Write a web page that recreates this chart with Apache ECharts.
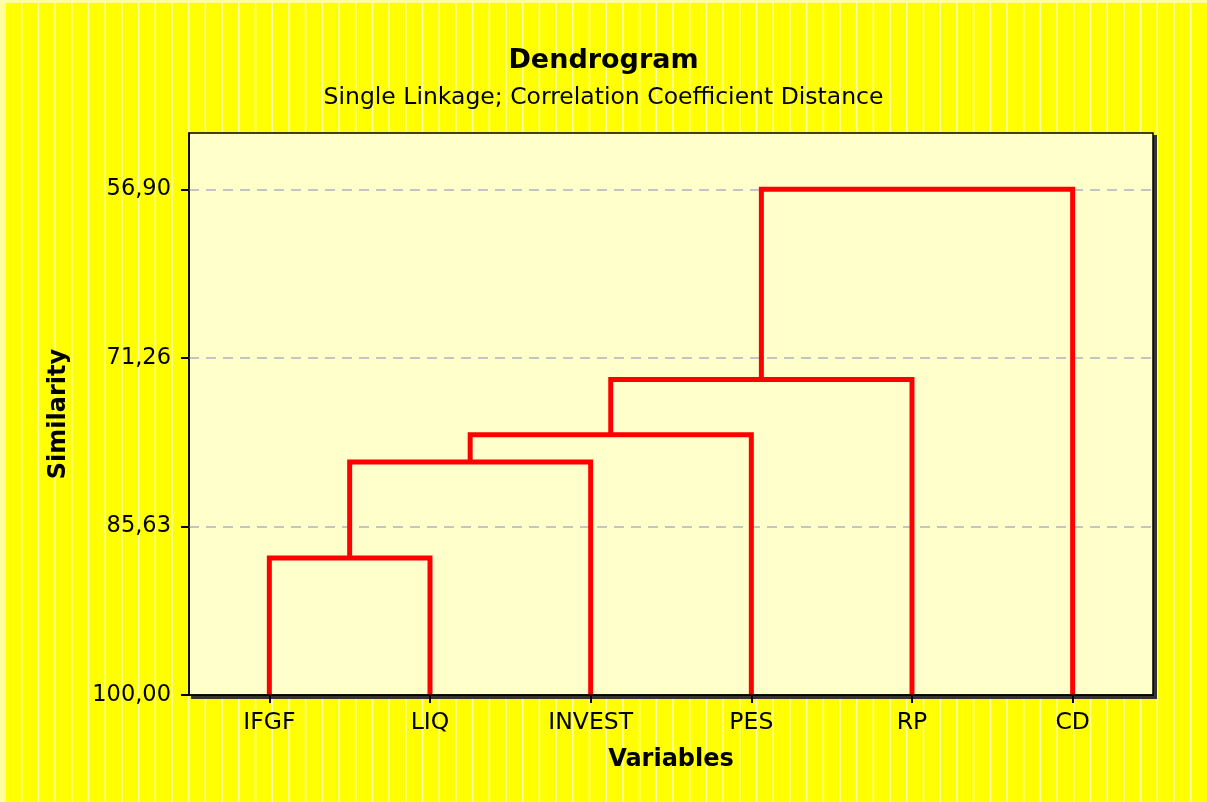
<!DOCTYPE html>
<html>
<head>
<meta charset="utf-8">
<script src="https://cdn.jsdelivr.net/npm/echarts@6/dist/echarts.min.js"></script>
<style>
html,body{margin:0;padding:0;}
#chart{width:1207px;height:802px;}
</style>
</head>
<body>
<div id="chart"></div>
<script>
// ---- data ----
const leaves = ['IFGF', 'LIQ', 'INVEST', 'PES', 'RP', 'CD'];
// node ids: leaves 0..5, merges 6..10
const mergeLeft = [0, 6, 7, 8, 9];
const mergeRight = [1, 2, 3, 4, 5];
const mergeSimilarity = [88.33, 80.15, 77.82, 73.12, 56.90];
const yTickValues = [56.90, 71.26, 85.63, 100.00];
const titleText = 'Dendrogram';
const subtitleText = 'Single Linkage; Correlation Coefficient Distance';

// ---- build tree coordinates ----
const nodeX = leaves.map((_, i) => i);
const nodeY = leaves.map(() => 100);
const series = [];
mergeSimilarity.forEach((h, k) => {
  const l = mergeLeft[k], r = mergeRight[k];
  const xl = nodeX[l], xr = nodeX[r];
  nodeX.push((xl + xr) / 2);
  nodeY.push(h);
  series.push({
    type: 'line', xAxisIndex: 1, yAxisIndex: 0, z: 5,
    symbol: 'none', silent: true, animation: false,
    lineStyle: {color: '#FF0000', width: 5, join: 'miter', cap: 'butt'},
    data: [[xl, nodeY[l]], [xl, h], [xr, h], [xr, nodeY[r]]]
  });
});
// dashed reference lines
series.push({
  type: 'line', xAxisIndex: 1, yAxisIndex: 0, z: 2, data: [], silent: true, animation: false,
  markLine: {
    silent: true, symbol: 'none', animation: false, label: {show: false},
    lineStyle: {color: '#C4C4C4', width: 2, type: [10, 7]},
    data: yTickValues.filter(v => v < 100).map(v => ({yAxis: v}))
  }
});

// ---- decorative background stripes and plot shadow ----
const W = 1207, H = 802;
const GL = 189, GR = 54, GT = 133, GB = 107;
const deco = [];
for (let x = 5; x < W; x += 16.7) {
  deco.push({type: 'rect', silent: true, z: -10, shape: {x: x - 0.8, y: 0, width: 1.6, height: H}, style: {fill: '#FFFFA8'}});
}
deco.push({type: 'rect', silent: true, z: -9, shape: {x: 0, y: 0, width: W, height: 3}, style: {fill: '#FFFFA0'}});
deco.push({type: 'rect', silent: true, z: -9, shape: {x: 0, y: 0, width: 4, height: H}, style: {fill: '#FFFFA0'}});
deco.push({type: 'rect', silent: true, z: -8, shape: {x: GL + 2, y: GT + 2, width: W - GL - GR + 2, height: H - GT - GB + 2}, style: {fill: '#333333'}});

const fontFam = '"DejaVu Sans", Verdana, sans-serif';
const chart = echarts.init(document.getElementById('chart'), null, {renderer: 'canvas'});
chart.setOption({
  backgroundColor: '#FFFF00',
  animation: false,
  graphic: deco,
  title: [
    {text: titleText, left: 'center', top: 42, textStyle: {fontFamily: fontFam, fontSize: 27, fontWeight: 'bold', color: '#000'}},
    {text: subtitleText, left: 'center', top: 81, textStyle: {fontFamily: fontFam, fontSize: 23.5, fontWeight: 'normal', color: '#000'}}
  ],
  grid: {
    left: GL, right: GR, top: GT, bottom: GB,
    show: true, backgroundColor: '#FFFFCC', borderColor: '#000', borderWidth: 1.5
  },
  xAxis: [
    {
      type: 'category', data: leaves, boundaryGap: true, z: 10,
      name: 'Variables', nameLocation: 'middle', nameGap: 53,
      nameTextStyle: {fontFamily: fontFam, fontSize: 24, fontWeight: 'bold', color: '#000'},
      axisLine: {show: true, onZero: false, lineStyle: {color: '#000', width: 1.5}},
      axisTick: {show: true, alignWithLabel: true, inside: false, length: 8, lineStyle: {color: '#000', width: 2}},
      axisLabel: {fontFamily: fontFam, fontSize: 23.5, color: '#000', margin: 16},
      splitLine: {show: false}
    },
    {type: 'value', min: -0.5, max: 5.5, show: false}
  ],
  yAxis: [{
    type: 'value', inverse: true, min: 52.1, max: 100, z: 10,
    name: 'Similarity', nameLocation: 'middle', nameGap: 118, nameRotate: 90,
    nameTextStyle: {fontFamily: fontFam, fontSize: 24, fontWeight: 'bold', color: '#000'},
    axisLine: {show: true, onZero: false, lineStyle: {color: '#000', width: 1.5}},
    axisTick: {show: true, inside: false, length: 8, customValues: yTickValues, lineStyle: {color: '#000', width: 2}},
    axisLabel: {
      customValues: yTickValues, fontFamily: fontFam, fontSize: 22.5, color: '#000', margin: 18,
      formatter: v => v.toFixed(2).replace('.', ',')
    },
    splitLine: {show: false}
  }],
  series: series
});
</script>
</body>
</html>
